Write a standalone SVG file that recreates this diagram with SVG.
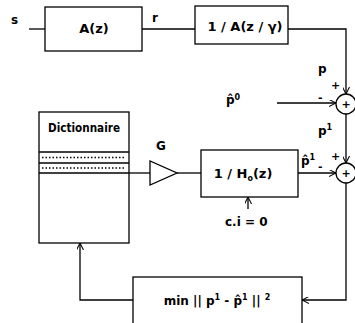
<svg xmlns="http://www.w3.org/2000/svg" width="355" height="323" viewBox="0 0 355 323">
<defs>
<marker id="arr" viewBox="0 0 10 10" refX="10" refY="5" markerWidth="7" markerHeight="7" orient="auto" markerUnits="userSpaceOnUse">
<path d="M0,0 L10,5 L0,10" fill="none" stroke="#000" stroke-width="1.5"/>
</marker>
</defs>
<style>
rect, circle, polygon { fill: #fff; stroke: #000; stroke-width: 1.3; }
.ln { fill: none; stroke: #000; stroke-width: 1.3; }
.ar { marker-end: url(#arr); }
text { font-family: "DejaVu Sans", "Liberation Sans", sans-serif; font-weight: bold; fill: #000; }
.t { font-size: 12px; }
.s { font-size: 11px; }
.m { font-size: 13px; text-anchor: middle; }
.dot { stroke: #000; stroke-width: 1.6; stroke-dasharray: 1.5 2; fill: none; }
</style>

<g id="connectors">
  <polyline class="ln" points="29,29 45,29"/>
  <polyline class="ln" points="142,29 195,29"/>
  <polyline class="ln ar" points="288,29 346,29 346,94"/>
  <polyline class="ln ar" points="277,103 336,103"/>
  <polyline class="ln ar" points="346,114 346,163"/>
  <polyline class="ln ar" points="298,173 336,173"/>
  <polyline class="ln ar" points="346,183 346,300 302,300"/>
  <polyline class="ln ar" points="133,300 80,300 80,243"/>
  <polyline class="ln" points="129,173 150,173"/>
  <polyline class="ln" points="177,173 201,173"/>
  <polyline class="ln ar" points="248,209 248,197"/>
</g>

<g id="labels">
  <text class="t" x="11" y="24">s</text>
  <text class="t" x="152" y="22">r</text>
  <text class="t" x="318" y="73">p</text>
  <text class="s" x="331" y="89">+</text>
  <text class="s" x="318" y="101">-</text>
  <text class="t" x="226" y="104">p̂<tspan font-size="8" dy="-4">0</tspan></text>
  <text class="t" x="318" y="135">p<tspan font-size="8" dy="-5">1</tspan></text>
  <text class="s" x="331" y="160">+</text>
  <text class="s" x="318" y="170">-</text>
  <text class="t" x="301" y="165">p̂<tspan font-size="8" dy="-5">1</tspan></text>
  <text class="t" x="156" y="150">G</text>
  <text class="t" x="225" y="226">c.i = 0</text>
</g>

<g id="node-A">
  <rect x="45" y="7" width="97" height="44"/>
  <text class="m" x="94" y="33">A(z)</text>
</g>

<g id="node-invA">
  <rect x="195" y="6" width="93" height="38"/>
  <text class="m" x="245" y="31">1 / A(z / γ)</text>
</g>

<g id="node-sum1">
  <circle cx="346" cy="104" r="10"/>
  <text class="s" x="346" y="108" text-anchor="middle">+</text>
</g>

<g id="node-sum2">
  <circle cx="346" cy="173" r="10"/>
  <text class="s" x="346" y="177" text-anchor="middle">+</text>
</g>

<g id="node-dict">
  <rect x="39" y="112" width="90" height="131"/>
  <text x="84" y="132" font-size="13" text-anchor="middle" textLength="72" lengthAdjust="spacingAndGlyphs">Dictionnaire</text>
  <line class="ln" x1="39" y1="152" x2="129" y2="152"/>
  <line class="ln" x1="39" y1="163" x2="129" y2="163"/>
  <line class="ln" x1="39" y1="173" x2="129" y2="173"/>
  <line class="dot" x1="42" y1="157.5" x2="126" y2="157.5"/>
  <line class="dot" x1="42" y1="168" x2="126" y2="168"/>
</g>

<g id="node-gain">
  <polygon points="150,161 150,185 177,173"/>
</g>

<g id="node-synth">
  <rect x="201" y="150" width="97" height="47"/>
  <text class="m" x="243" y="178">1 / H<tspan font-size="8" dy="3">o</tspan><tspan dy="-3">(z)</tspan></text>
</g>

<g id="node-min">
  <rect x="133" y="277" width="169" height="60"/>
  <text x="217" y="305" font-size="12" text-anchor="middle">min || p<tspan font-size="8" dy="-5">1</tspan><tspan dy="5"> - p̂</tspan><tspan font-size="8" dy="-5">1</tspan><tspan dy="5"> || </tspan><tspan font-size="8" dy="-5">2</tspan></text>
</g>
</svg>
